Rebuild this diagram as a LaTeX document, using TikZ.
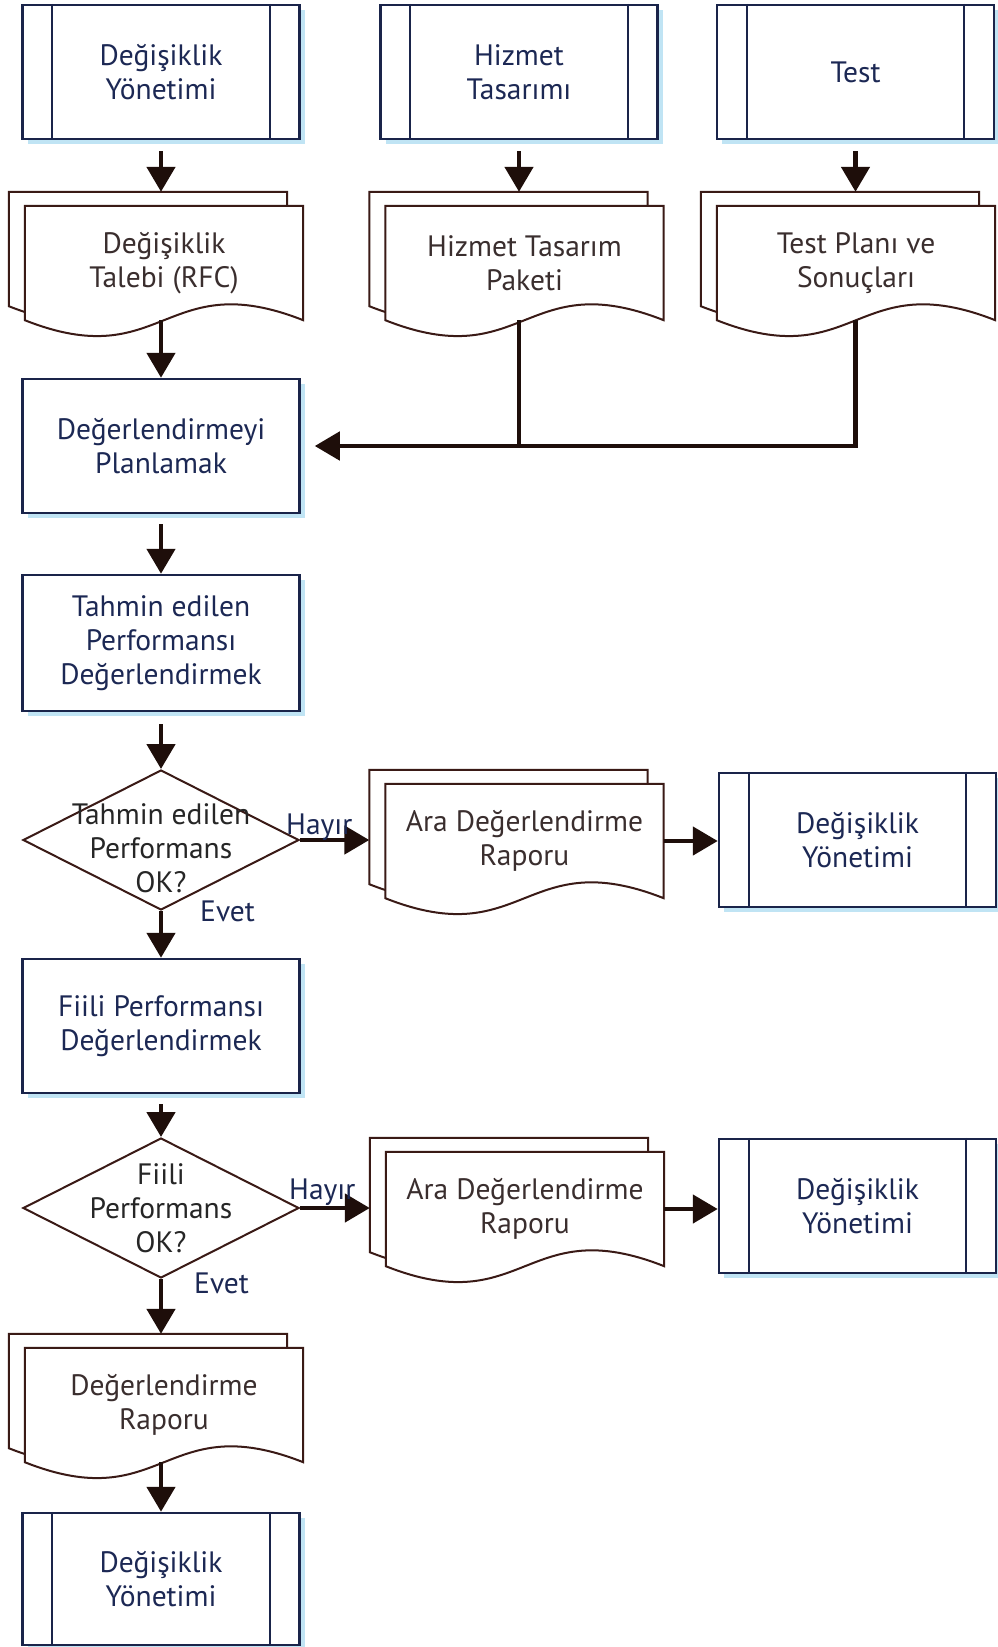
\documentclass[tikz,border=0pt]{standalone}
\usepackage{fontspec}
\setmainfont{PT Sans}
\usetikzlibrary{arrows.meta,shapes.geometric,calc,backgrounds,shadows}

\definecolor{navy}{RGB}{26,36,74}
\definecolor{navytext}{RGB}{28,40,84}
\definecolor{docline}{RGB}{58,26,22}
\definecolor{doctext}{RGB}{58,46,46}
\definecolor{flowline}{RGB}{30,14,10}
\definecolor{shade}{RGB}{192,228,244}

\tikzset{
  base/.style={font=\fontsize{29.5}{34}\selectfont, align=center},
  procbox/.style={base, rectangle, draw=navy, line width=2.5pt, fill=white,
    text=navytext, minimum width=277pt, minimum height=134pt, inner sep=0pt,
    drop shadow={shadow xshift=5pt, shadow yshift=-5pt, fill=shade, opacity=1}},
  predef/.style={procbox},
  docnode/.style={base, rectangle, minimum width=278pt, minimum height=114pt,
    inner sep=0pt, text=doctext},
  decision/.style={diamond, draw=docline, line width=2pt, minimum width=276pt,
    minimum height=140pt, inner sep=0pt, fill=white},
  dtext/.style={base, text=black!85, inner sep=0pt},
  lbl/.style={base, text=navytext, inner sep=0pt},
  flow/.style={draw=flowline, line width=4.8pt,
    -{Triangle[length=25pt,width=28pt]}},
  link/.style={draw=flowline, line width=4.8pt},
  docsheet/.style={draw=docline, line width=2pt, fill=white},
  barline/.style={draw=navy, line width=2pt},
}

% stacked document sheets behind a document node
\newcommand\docsheets[1]{%
  \begin{scope}[on background layer]
    \path[docsheet] ($(#1.north west)+(-16,-14)$) -- ($(#1.north east)+(-16,-14)$)
      -- ($(#1.south east)+(-16,-14)$)
      .. controls ($(#1.south)+(-16,-69)$) and ($(#1.south)+(-16,41)$)
      .. ($(#1.south west)+(-16,-14)$) -- cycle;
    \path[docsheet] (#1.north west) -- (#1.north east) -- (#1.south east)
      .. controls ($(#1.south)+(0,-55)$) and ($(#1.south)+(0,55)$)
      .. (#1.south west) -- cycle;
  \end{scope}
  \coordinate (#1-in) at ($(#1.north west)+(-16,-14)$);}

% inner vertical bars of a predefined-process box
\newcommand\sidebars[1]{%
  \draw[barline] ($(#1.north west)+(31,0)$) -- ($(#1.south west)+(31,0)$);
  \draw[barline] ($(#1.north east)+(-31,0)$) -- ($(#1.south east)+(-31,0)$);}

\begin{document}
\begin{tikzpicture}[x=1pt, y=-1pt]
\useasboundingbox (0,0) rectangle (997,1647);
\begin{scope}[on background layer]
  \fill[white] (0,0) rectangle (997,1647);
\end{scope}

% top row
\node[predef] (cm1) at (161,72) {Değişiklik\\Yönetimi};
\node[predef] (sd)  at (519,72) {Hizmet\\Tasarımı};
\node[predef] (tst) at (855.5,72) {Test};
\sidebars{cm1}\sidebars{sd}\sidebars{tst}

\node[docnode] (rfc) at (164,263) {Değişiklik\\Talebi (RFC)};
\node[docnode] (sdp) at (524.5,263) {Hizmet Tasarım\\Paketi};
\node[docnode] (tpr) at (856,263) {Test Planı ve\\Sonuçları};
\docsheets{rfc}\docsheets{sdp}\docsheets{tpr}

% main column
\node[procbox] (plan) at (161,446) {Değerlendirmeyi\\Planlamak};
\node[procbox, minimum height=136pt] (pred) at (161,643) {Tahmin edilen\\Performansı\\Değerlendirmek};
\node[decision] (dec1) at (161,840) {};
\node[dtext] (dec1t) at (161,848) {Tahmin edilen\\Performans\\OK?};
\node[procbox] (act) at (161,1026) {Fiili Performansı\\Değerlendirmek};
\node[decision] (dec2) at (161,1208) {};
\node[dtext] (dec2t) at (161,1208) {Fiili\\Performans\\OK?};
\node[docnode] (er) at (164,1405) {Değerlendirme\\Raporu};
\docsheets{er}
\node[predef, minimum height=132pt] (cm4) at (161,1579) {Değişiklik\\Yönetimi};
\sidebars{cm4}

% interim report branches
\node[docnode] (ir1) at (524.5,841) {Ara Değerlendirme\\Raporu};
\node[docnode] (ir2) at (525,1209) {Ara Değerlendirme\\Raporu};
\docsheets{ir1}\docsheets{ir2}
\node[predef] (cm2) at (857.5,840) {Değişiklik\\Yönetimi};
\node[predef] (cm3) at (857.5,1206) {Değişiklik\\Yönetimi};
\sidebars{cm2}\sidebars{cm3}

% connectors
\draw[flow] ([yshift=-11pt]cm1.south) -- (cm1.south |- rfc-in);
\draw[flow] ([yshift=-11pt]sd.south) -- (sd.south |- sdp-in);
\draw[flow] ([yshift=-11pt]tst.south) -- (tst.south |- tpr-in);
\draw[flow] (rfc.south -| cm1.south) -- (plan.north);
\coordinate (feed) at ([xshift=14pt]plan.east);
\draw[link] (sdp.south -| sd.south) -- (sd.south |- feed);
\draw[flow] (tpr.south -| tst.south) |- (feed);
\draw[flow] ([yshift=-10pt]plan.south) -- (pred.north);
\draw[flow] ([yshift=-12pt]pred.south) -- (dec1.north);
\draw[flow] (dec1.south) -- (act.north);
\draw[flow] ([yshift=-10pt]act.south) -- (dec2.north);
\draw[flow] (dec2.south) -- (dec2.south |- er-in);
\draw[flow] (er.south -| cm4.north) -- (cm4.north);
\draw[flow] (dec1.east) -- (dec1.east -| ir1-in);
\draw[flow] (ir1.east) -- (ir1.east -| cm2.west);
\draw[flow] (dec2.east) -- (dec2.east -| ir2-in);
\draw[flow] (ir2.east) -- (ir2.east -| cm3.west);

% branch labels
\node[lbl, anchor=base west] (no1) at ([xshift=-14pt, yshift=6pt]dec1.east) {Hayır};
\node[lbl, anchor=base west] (no2) at ([xshift=-11pt, yshift=9pt]dec2.east) {Hayır};
\node[lbl, anchor=west] (yes1) at ([xshift=39pt]dec1.south) {Evet};
\node[lbl, anchor=west] (yes2) at ([xshift=33pt, yshift=-4pt]dec2.south) {Evet};
\end{tikzpicture}
\end{document}
